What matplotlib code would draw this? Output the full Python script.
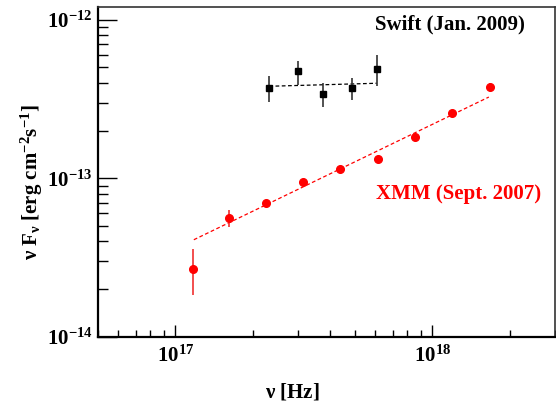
import matplotlib
matplotlib.use("Agg")
from matplotlib import pyplot as plt
from matplotlib import ticker
import numpy as np

# XMM (Sept. 2007) points
xmm_nu = [1.17e17, 1.62e17, 2.26e17, 3.14e17, 4.38e17, 6.12e17, 8.55e17, 1.195e18, 1.68e18]
xmm_flux = [2.70e-14, 5.64e-14, 7.02e-14, 9.52e-14, 1.14e-13, 1.33e-13, 1.82e-13, 2.57e-13, 3.78e-13]
xmm_err_lo = [0.86e-14, 0.69e-14, 0.30e-14, 0.30e-14, 0.35e-14, 0.45e-14, 0.60e-14, 0.10e-13, 0.20e-13]
xmm_err_hi = [0.88e-14, 0.67e-14, 0.30e-14, 0.30e-14, 0.35e-14, 0.45e-14, 0.60e-14, 0.10e-13, 0.20e-13]
xmm_fit_nu = [1.18e17, 1.66e18]
xmm_fit_flux = [4.1e-14, 3.25e-13]

# Swift (Jan. 2009) points
swift_nu = [2.32e17, 3.01e17, 3.74e17, 4.88e17, 6.08e17]
swift_flux = [3.73e-13, 4.71e-13, 3.42e-13, 3.73e-13, 4.88e-13]
swift_err_lo = [0.69e-13, 0.83e-13, 0.59e-13, 0.61e-13, 1.09e-13]
swift_err_hi = [0.69e-13, 0.77e-13, 0.55e-13, 0.58e-13, 1.12e-13]
swift_fit_nu = [2.32e17, 6.08e17]
swift_fit_flux = [3.80e-13, 3.97e-13]

x_major = [1e17, 1e18]
y_major = [1e-14, 1e-13, 1e-12]

plt.rcParams['font.family'] = ['Liberation Serif', 'DejaVu Serif']
plt.rcParams['font.weight'] = 'bold'
plt.rcParams['mathtext.fontset'] = 'custom'
plt.rcParams['mathtext.rm'] = 'Liberation Serif:bold'
plt.rcParams['mathtext.it'] = 'Liberation Serif:bold'
plt.rcParams['mathtext.bf'] = 'Liberation Serif:bold'

fig = plt.figure(figsize=(5.56, 4.03), dpi=100)
ax = fig.add_axes([0.1763, 0.1638, 0.8217, 0.8188])
ax.set_xscale('log')
ax.set_yscale('log')
ax.set_xlim(5e16, 3e18)
ax.set_ylim(1e-14, 1.2e-12)

# fits
ax.plot(xmm_fit_nu, xmm_fit_flux, ls=(0, (3, 2)), color='red', lw=0.9)
ax.plot(swift_fit_nu, swift_fit_flux, ls=(0, (3, 2)), color='black', lw=0.9)

# data
ax.errorbar(xmm_nu, xmm_flux, yerr=[xmm_err_lo, xmm_err_hi], fmt='o', color='red',
            ecolor='#f03030', elinewidth=1.2, markersize=5.5, capsize=0)
ax.errorbar(swift_nu, swift_flux, yerr=[swift_err_lo, swift_err_hi], fmt='s', color='black',
            ecolor='#333333', elinewidth=1.2, markersize=5, capsize=0)

ax.text(0.771, 0.948, 'Swift (Jan. 2009)', transform=ax.transAxes, ha='center', va='center',
        fontsize=15, fontweight='bold', color='black')
ax.text(0.790, 0.433, 'XMM (Sept. 2007)', transform=ax.transAxes, ha='center', va='center',
        fontsize=15, fontweight='bold', color='red')

def logfmt(v, pos):
    e = int(round(np.log10(v)))
    return r'$10^{%d}$' % e

ax.xaxis.set_major_locator(ticker.FixedLocator(x_major))
ax.xaxis.set_minor_locator(ticker.LogLocator(base=10, subs=np.arange(2, 10), numticks=20))
ax.xaxis.set_major_formatter(ticker.FuncFormatter(logfmt))
ax.xaxis.set_minor_formatter(ticker.NullFormatter())
ax.yaxis.set_major_locator(ticker.FixedLocator(y_major))
ax.yaxis.set_minor_locator(ticker.LogLocator(base=10, subs=np.arange(2, 10), numticks=20))
ax.yaxis.set_major_formatter(ticker.FuncFormatter(logfmt))
ax.yaxis.set_minor_formatter(ticker.NullFormatter())

ax.tick_params(axis='both', which='both', direction='in', top=False, right=False, labelsize=15)
ax.tick_params(axis='x', which='major', length=9, width=1, pad=6)
ax.tick_params(axis='x', which='minor', length=5, width=1)
ax.tick_params(axis='y', which='major', length=14, width=1, pad=4)
ax.tick_params(axis='y', which='minor', length=7, width=1)

for s in ax.spines.values():
    s.set_linewidth(1.2)
    s.set_color('#333333')
ax.spines['left'].set_color('black')
ax.spines['bottom'].set_color('black')
ax.spines['left'].set_linewidth(1.6)
ax.spines['bottom'].set_linewidth(1.6)

ax.set_xlabel(r'$\nu$ [Hz]', fontsize=15, fontweight='bold')
ax.xaxis.set_label_coords(0.425, -0.135)
ax.set_ylabel(r'$\nu$ F$_{\nu}$ [erg cm$^{-2}$s$^{-1}$]', fontsize=15, fontweight='bold')
ax.yaxis.set_label_coords(-0.117, 0.47)

fig.savefig('out.png', dpi=100)
